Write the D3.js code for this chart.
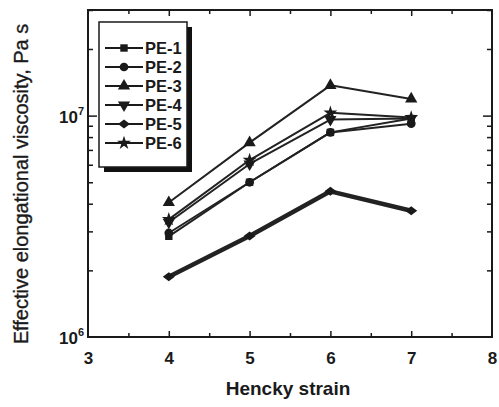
<!DOCTYPE html>
<html>
<head>
<meta charset="utf-8">
<script src="https://cdn.jsdelivr.net/npm/d3@7"></script>
<style>
  html, body { margin: 0; padding: 0; background: #fff; }
  svg { display: block; font-family: "Liberation Sans", Arial, Helvetica, sans-serif; }
</style>
</head>
<body>
<svg id="chart" width="499" height="407"></svg>
<script>
// Hencky strain values where viscosity was measured
const strains = [4, 5, 6, 7];

// Effective elongational viscosity (Pa s) per sample
const pe1 = [2.85e6, 5.0e6, 8.4e6, 9.7e6];
const pe2 = [2.95e6, 5.0e6, 8.4e6, 9.2e6];
const pe3 = [4.05e6, 7.55e6, 13.7e6, 11.9e6];
const pe4 = [3.3e6, 6.05e6, 9.6e6, 9.7e6];
const pe5 = [1.87e6, 2.86e6, 4.55e6, 3.72e6];
const pe6 = [3.4e6, 6.3e6, 10.3e6, 9.8e6];

const seriesNames = ["PE-1", "PE-2", "PE-3", "PE-4", "PE-5", "PE-6"];
const seriesValues = [pe1, pe2, pe3, pe4, pe5, pe6];
const seriesSymbols = ["square", "circle", "triUp", "triDown", "diamond", "star"];

// Axis ticks
const xTicks = [3, 4, 5, 6, 7, 8];
const xMinorTicks = [3.5, 4.5, 5.5, 6.5, 7.5];
const yMajorTicks = [1e6, 1e7];
const yMinorTicks = [2e6, 3e6, 4e6, 5e6, 6e6, 7e6, 8e6, 9e6, 2e7, 3e7];
const yTickLabels = [{ base: "10", exp: "6" }, { base: "10", exp: "7" }];

const margin = { left: 88, top: 10, right: 7, bottom: 70 };
const W = 499, H = 407;
const iw = W - margin.left - margin.right;
const ih = H - margin.top - margin.bottom;

const svg = d3.select("#chart");
const g = svg.append("g").attr("transform", `translate(${margin.left},${margin.top})`);

const x = d3.scaleLinear().domain([3, 8]).range([0, iw]);
const y = d3.scaleLog().domain([1e6, 3e7]).range([ih, 0]);

const ink = "#1a1a1a";

// Frame
g.append("rect")
  .attr("x", 0).attr("y", 0).attr("width", iw).attr("height", ih)
  .attr("fill", "none").attr("stroke", ink).attr("stroke-width", 2);

function styleAxis(sel) {
  sel.select(".domain").remove();
  sel.selectAll(".tick line").attr("stroke", ink).attr("stroke-width", 1.5);
}

// Bottom axis: labelled major ticks pointing inward
const xAxis = g.append("g").attr("transform", `translate(0,${ih})`)
  .call(d3.axisBottom(x).tickValues(xTicks).tickSize(-6).tickPadding(15).tickFormat(d3.format("d")));
styleAxis(xAxis);
xAxis.selectAll(".tick text")
  .attr("fill", ink).attr("font-size", 17).attr("font-weight", "bold")
  .attr("font-family", "Liberation Sans, Arial, sans-serif");
xAxis.selectAll(".tick").filter(d => d === 3 || d === 8).select("line").remove();

const xMinor = g.append("g").attr("transform", `translate(0,${ih})`)
  .call(d3.axisBottom(x).tickValues(xMinorTicks).tickSize(-4).tickFormat(""));
styleAxis(xMinor);

// Top axis ticks
const xTop = g.append("g")
  .call(d3.axisTop(x).tickValues(xTicks.slice(1, -1)).tickSize(-6).tickFormat(""));
styleAxis(xTop);
const xTopMinor = g.append("g")
  .call(d3.axisTop(x).tickValues(xMinorTicks).tickSize(-4).tickFormat(""));
styleAxis(xTopMinor);

// Left axis ticks
const yLeft = g.append("g")
  .call(d3.axisLeft(y).tickValues(yMajorTicks.slice(1)).tickSize(-9).tickFormat(""));
styleAxis(yLeft);
const yLeftMinor = g.append("g")
  .call(d3.axisLeft(y).tickValues(yMinorTicks).tickSize(-5).tickFormat(""));
styleAxis(yLeftMinor);

// Right axis ticks
const yRight = g.append("g").attr("transform", `translate(${iw},0)`)
  .call(d3.axisRight(y).tickValues(yMajorTicks.slice(1)).tickSize(-9).tickFormat(""));
styleAxis(yRight);
const yRightMinor = g.append("g").attr("transform", `translate(${iw},0)`)
  .call(d3.axisRight(y).tickValues(yMinorTicks).tickSize(-5).tickFormat(""));
styleAxis(yRightMinor);

// Y tick labels as powers of ten
yMajorTicks.forEach((v, i) => {
  const t = g.append("text")
    .attr("x", -4).attr("y", y(v) + 7)
    .attr("text-anchor", "end")
    .attr("fill", ink).attr("font-size", 17).attr("font-weight", "bold");
  t.append("tspan").text(yTickLabels[i].base);
  t.append("tspan").attr("dy", -8).attr("font-size", 11).text(yTickLabels[i].exp);
});

// Axis titles
svg.append("text")
  .attr("x", margin.left + iw * 0.5 - 2).attr("y", 395)
  .attr("text-anchor", "middle")
  .attr("fill", ink).attr("font-size", 19).attr("font-weight", "bold")
  .text("Hencky strain");

svg.append("text")
  .attr("transform", `translate(28,184) rotate(-90)`)
  .attr("text-anchor", "middle")
  .attr("fill", ink).attr("stroke", ink).attr("stroke-width", 0.35)
  .attr("font-size", 20)
  .text("Effective elongational viscosity, Pa s");

// Marker shapes
const symbolPath = {
  square: d3.symbol().type(d3.symbolSquare).size(55)(),
  circle: d3.symbol().type(d3.symbolCircle).size(60)(),
  triUp: d3.symbol().type(d3.symbolTriangle).size(65)(),
  triDown: d3.symbol().type(d3.symbolTriangle).size(65)(),
  diamond: "M-6,0L0,-4.5L6,0L0,4.5Z",
  star: d3.symbol().type(d3.symbolStar).size(60)()
};
function markerTransform(sym, px, py) {
  return sym === "triDown" ? `translate(${px},${py}) rotate(180)` : `translate(${px},${py})`;
}

const line = d3.line().x((d, i) => x(strains[i])).y(d => y(d));

// Series lines and markers
const drawOrder = [4, 1, 0, 3, 5, 2];
drawOrder.forEach(si => {
  const vals = seriesValues[si];
  g.append("path")
    .datum(vals)
    .attr("d", line)
    .attr("fill", "none")
    .attr("stroke", "#222")
    .attr("stroke-width", si === 4 ? 4.5 : 2)
    .attr("stroke-linejoin", "round")
    .attr("stroke-linecap", "round");
  g.selectAll(null).data(vals).enter().append("path")
    .attr("d", symbolPath[seriesSymbols[si]])
    .attr("transform", (d, i) => markerTransform(seriesSymbols[si], x(strains[i]), y(d)))
    .attr("fill", "#1a1a1a");
});

// Legend with drop shadow
const leg = svg.append("g").attr("transform", "translate(99,22)");
const lw = 88, lh = 145;
leg.append("rect").attr("x", 5).attr("y", 5).attr("width", lw).attr("height", lh).attr("fill", "#111");
leg.append("rect").attr("x", 0).attr("y", 0).attr("width", lw).attr("height", lh)
  .attr("fill", "#fff").attr("stroke", ink).attr("stroke-width", 1.5);

seriesNames.forEach((name, i) => {
  const cy = 26 + i * 19;
  leg.append("line").attr("x1", 6).attr("x2", 44).attr("y1", cy).attr("y2", cy)
    .attr("stroke", ink).attr("stroke-width", 2);
  leg.append("path").attr("d", symbolPath[seriesSymbols[i]])
    .attr("transform", markerTransform(seriesSymbols[i], 25, cy))
    .attr("fill", ink);
  leg.append("text").attr("x", 46).attr("y", cy + 6)
    .attr("fill", ink).attr("font-size", 16.5).attr("font-weight", "bold")
    .text(name);
});
</script>
</body>
</html>
